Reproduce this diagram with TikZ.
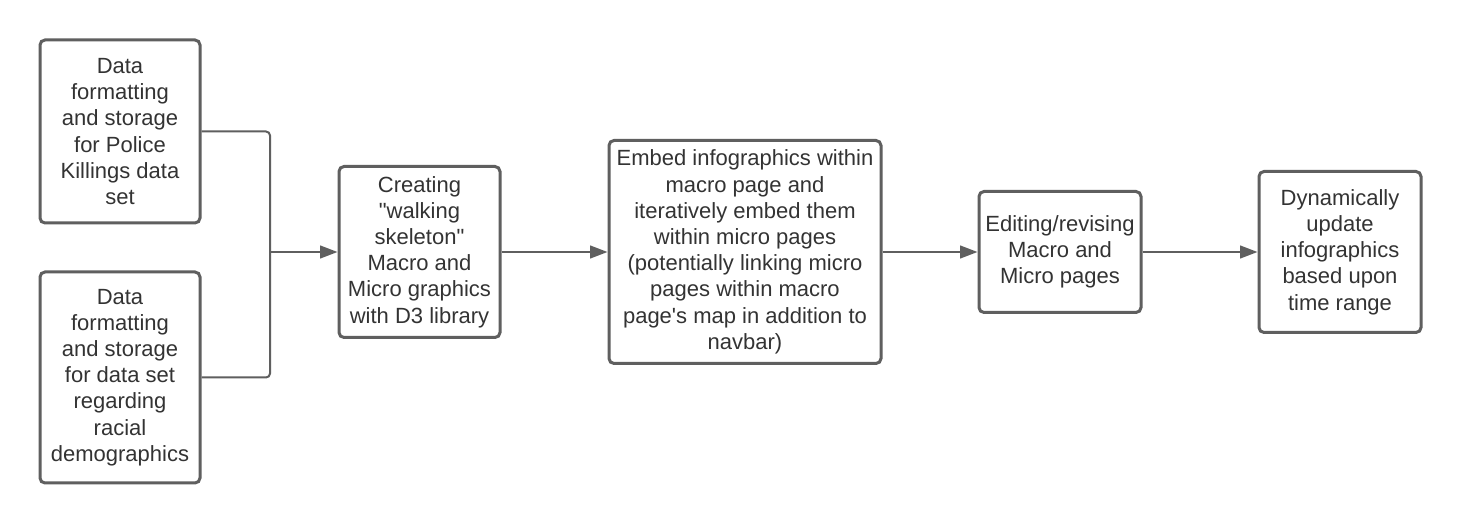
\documentclass[tikz,border=0pt]{standalone}
\usepackage{fontspec}
\setmainfont{Liberation Sans}[Ligatures=TeXOff]
\usetikzlibrary{arrows.meta}
\definecolor{linegray}{HTML}{5F5F5F}
\definecolor{txtgray}{HTML}{333333}
\begin{document}
\begin{tikzpicture}[x=0.75pt,y=-0.75pt,
 box/.style={draw=linegray,line width=2.25pt,rounded corners=3.75pt,fill=white,align=center,inner sep=0pt,text=txtgray,font=\fontsize{16.5pt}{19.65pt}\selectfont},
 conn/.style={draw=linegray,line width=1.5pt,-{Triangle[length=13pt,width=9.5pt]}},
 link/.style={draw=linegray,line width=1.5pt,rounded corners=3pt}]
\useasboundingbox[fill=white] (0,0) rectangle (1460,523);
\node[box,minimum width=120pt,minimum height=137.25pt] (a) at (120,131.5)
  {Data\\formatting\\and storage\\for Police\\Killings data\\set};
\node[box,minimum width=120pt,minimum height=158.25pt] (b) at (120,377.5)
  {Data\\formatting\\and storage\\for data set\\regarding\\racial\\demographics};
\node[box,minimum width=120.75pt,minimum height=128.25pt] (c) at (419.5,252)
  {Creating\\"walking\\skeleton"\\Macro and\\Micro graphics\\with D3 library};
\node[box,minimum width=204pt,minimum height=167.25pt] (d) at (745,252)
  {Embed infographics within\\macro page and\\iteratively embed them\\within micro pages\\(potentially linking micro\\pages within macro\\page's map in addition to\\navbar)};
\node[box,minimum width=121.5pt,minimum height=90.75pt] (e) at (1060,252)
  {Editing/revising\\Macro and\\Micro pages};
\node[box,minimum width=121.5pt,minimum height=120.75pt] (f) at (1340,252)
  {Dynamically\\update\\infographics\\based upon\\time range};
\coordinate (j) at (270,252);
\draw[link] (a.east) -| (j);
\draw[link] (b.east) -| (j);
\draw[conn] (j) -- (c.west);
\draw[conn] (c.east) -- (d.west);
\draw[conn] (d.east) -- (e.west);
\draw[conn] (e.east) -- (f.west);
\end{tikzpicture}
\end{document}
